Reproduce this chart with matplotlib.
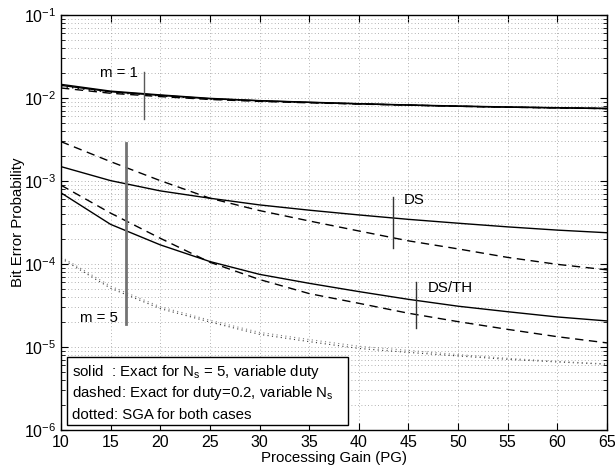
import matplotlib
matplotlib.use("Agg")
import matplotlib.pyplot as plt
from matplotlib.patches import Rectangle
import numpy as np

plt.rcParams['font.family'] = ['Liberation Sans', 'DejaVu Sans']
plt.rcParams['mathtext.fontset'] = 'custom'
plt.rcParams['mathtext.rm'] = 'Liberation Sans'
plt.rcParams['mathtext.it'] = 'Liberation Sans'
plt.rcParams['mathtext.default'] = 'regular'

pg = [10, 15, 20, 25, 30, 35, 40, 45, 50, 55, 60, 65]

# m = 1 curves
m1_solid_a = [1.46e-2, 1.21e-2, 1.09e-2, 9.9e-3, 9.3e-3, 8.9e-3, 8.55e-3, 8.25e-3, 8.0e-3, 7.8e-3, 7.65e-3, 7.5e-3]
m1_solid_b = [1.42e-2, 1.19e-2, 1.075e-2, 9.8e-3, 9.25e-3, 8.85e-3, 8.5e-3, 8.2e-3, 7.95e-3, 7.75e-3, 7.6e-3, 7.45e-3]
m1_dashed = [1.32e-2, 1.14e-2, 1.04e-2, 9.6e-3, 9.1e-3, 8.75e-3, 8.45e-3, 8.2e-3, 7.95e-3, 7.75e-3, 7.6e-3, 7.45e-3]
m1_dotted = [1.38e-2, 1.17e-2, 1.06e-2, 9.7e-3, 9.2e-3, 8.8e-3, 8.5e-3, 8.2e-3, 7.95e-3, 7.75e-3, 7.6e-3, 7.45e-3]

# m = 5, DS
ds_solid = [1.49e-3, 1.01e-3, 7.6e-4, 6.2e-4, 5.15e-4, 4.45e-4, 3.9e-4, 3.45e-4, 3.1e-4, 2.8e-4, 2.56e-4, 2.38e-4]
ds_dashed = [2.98e-3, 1.71e-3, 1.01e-3, 6.2e-4, 4.4e-4, 3.3e-4, 2.5e-4, 1.9e-4, 1.52e-4, 1.2e-4, 9.9e-5, 8.5e-5]

# m = 5, DS/TH
dsth_solid = [7.2e-4, 3.0e-4, 1.7e-4, 1.07e-4, 7.5e-5, 5.85e-5, 4.65e-5, 3.75e-5, 3.1e-5, 2.66e-5, 2.3e-5, 2.06e-5]
dsth_dashed = [8.9e-4, 4.1e-4, 2.04e-4, 1.05e-4, 6.5e-5, 4.4e-5, 3.36e-5, 2.55e-5, 2.02e-5, 1.63e-5, 1.33e-5, 1.12e-5]

# m = 5, SGA
sga_a = [1.17e-4, 5.1e-5, 2.9e-5, 2.0e-5, 1.42e-5, 1.16e-5, 9.6e-6, 8.6e-6, 7.8e-6, 7.1e-6, 6.6e-6, 6.2e-6]
sga_b = [1.22e-4, 5.4e-5, 3.05e-5, 2.1e-5, 1.5e-5, 1.23e-5, 1.02e-5, 9.1e-6, 8.1e-6, 7.3e-6, 6.7e-6, 6.25e-6]

# annotation markers: (x, y_low, y_high)
mark_m1 = (18.36, 5.6e-3, 2.05e-2)
mark_m5 = (16.5, 1.89e-5, 2.87e-3)
mark_ds = (43.4, 1.56e-4, 6.4e-4)
mark_dsth = (45.75, 1.69e-5, 6.07e-5)

fig = plt.figure(figsize=(6.15, 4.66), dpi=100)
ax = fig.add_axes([0.0992, 0.0773, 0.8878, 0.8905])
ax.set_yscale('log')
ax.set_xlim(10, 65)
ax.set_ylim(1e-6, 1e-1)

lw = 1.0
dash = (0, (6, 4))
dot = (0, (1, 3))
for y in (m1_solid_a, m1_solid_b):
    ax.plot(pg, y, color='black', lw=lw, ls='-')
ax.plot(pg, m1_dashed, color='black', lw=lw, ls=dash)
ax.plot(pg, m1_dotted, color='black', lw=lw, ls=dot)

ax.plot(pg, ds_solid, color='black', lw=lw, ls='-')
ax.plot(pg, ds_dashed, color='black', lw=lw, ls=dash)
ax.plot(pg, dsth_solid, color='black', lw=lw, ls='-')
ax.plot(pg, dsth_dashed, color='black', lw=lw, ls=dash)
ax.plot(pg, sga_a, color='0.2', lw=0.8, ls=dot)
ax.plot(pg, sga_b, color='0.5', lw=0.8, ls=dot)

ax.plot([mark_m1[0]] * 2, mark_m1[1:], color='0.35', lw=1.0)
ax.plot([mark_m5[0]] * 2, mark_m5[1:], color='0.45', lw=2.0)
ax.plot([mark_ds[0]] * 2, mark_ds[1:], color='0.2', lw=1.0)
ax.plot([mark_dsth[0]] * 2, mark_dsth[1:], color='0.2', lw=1.0)

fs = 10.8
ax.text(13.9, 2.0e-2, 'm = 1', fontsize=fs, va='center', ha='left')
ax.text(11.9, 2.24e-5, 'm = 5', fontsize=fs, va='center', ha='left')
ax.text(44.5, 5.9e-4, 'DS', fontsize=fs, va='center', ha='left')
ax.text(46.9, 5.14e-5, 'DS/TH', fontsize=fs, va='center', ha='left')

ax.set_xticks(np.arange(10, 66, 5))
ax.grid(True, which='major', axis='both', ls=(0, (1, 3)), color='0.6', lw=0.6)
ax.grid(True, which='minor', axis='y', ls=(0, (1, 3)), color='0.6', lw=0.6)
ax.tick_params(which='both', direction='in', top=True, right=True, labelsize=11.5)
ax.tick_params(which='major', length=5)
ax.tick_params(which='minor', length=3)
for s in ax.spines.values():
    s.set_linewidth(1.0)

ax.set_xlabel('Processing Gain (PG)', fontsize=fs, labelpad=1)
ax.set_ylabel('Bit Error Probability', fontsize=fs, labelpad=-1)

ax.add_patch(Rectangle((0.011, 0.012), 0.515, 0.164, transform=ax.transAxes,
                       facecolor='white', edgecolor='black', lw=1.0, zorder=5))
ax.text(0.02, 0.14, 'solid  : Exact for $N_s$ = 5, variable duty', transform=ax.transAxes,
        fontsize=fs, va='center', ha='left', zorder=6)
ax.text(0.02, 0.089, 'dashed: Exact for duty=0.2, variable $N_s$', transform=ax.transAxes,
        fontsize=fs, va='center', ha='left', zorder=6)
ax.text(0.02, 0.036, 'dotted: SGA for both cases', transform=ax.transAxes,
        fontsize=fs, va='center', ha='left', zorder=6)

fig.savefig('out.png', dpi=100)
